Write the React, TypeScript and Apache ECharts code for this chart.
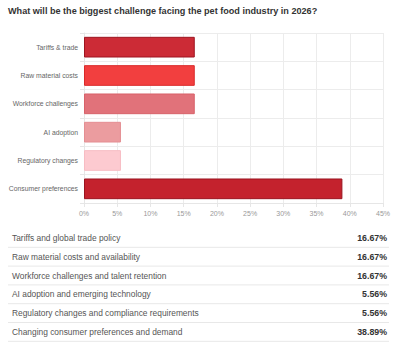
import React, { useEffect, useRef } from "react";
import * as echarts from "echarts";

const title = "What will be the biggest challenge facing the pet food industry in 2026?";
const shortLabels = [
  "Tariffs & trade",
  "Raw material costs",
  "Workforce challenges",
  "AI adoption",
  "Regulatory changes",
  "Consumer preferences",
];
const longLabels = [
  "Tariffs and global trade policy",
  "Raw material costs and availability",
  "Workforce challenges and talent retention",
  "AI adoption and emerging technology",
  "Regulatory changes and compliance requirements",
  "Changing consumer preferences and demand",
];
const values = [16.67, 16.67, 16.67, 5.56, 5.56, 38.89];
const barColors = ["#cc2b36", "#f23f3f", "#e1727a", "#eb9c9f", "#fdcad0", "#c4222d"];
const borderColors = ["#9e1520", "#d92a2a", "#d8626a", "#e48e92", "#f7bcc3", "#9a1420"];
const xTicks = [0, 5, 10, 15, 20, 25, 30, 35, 40, 45];

export default function App() {
  const ref = useRef<HTMLDivElement>(null);
  useEffect(() => {
    if (!ref.current) return;
    const chart = echarts.init(ref.current, null, { renderer: "svg" });
    const font = "Arial, 'Liberation Sans', sans-serif";
    const rowTop = 228.5;
    const rowH = 18.8;
    const graphics: any[] = [
      {
        type: "text",
        left: 8,
        top: 6,
        style: { text: title, fill: "#333", font: `bold 9.1px ${font}` },
      },
    ];
    longLabels.forEach((lbl, i) => {
      const cy = rowTop + rowH * i + rowH / 2;
      graphics.push({
        type: "text",
        x: 12,
        y: cy,
        style: { text: lbl, fill: "#555", font: `8.4px ${font}`, textVerticalAlign: "middle" },
      });
      graphics.push({
        type: "text",
        x: 387,
        y: cy,
        style: {
          text: values[i].toFixed(2) + "%",
          fill: "#333",
          font: `bold 8.8px ${font}`,
          textAlign: "right",
          textVerticalAlign: "middle",
        },
      });
      graphics.push({
        type: "line",
        shape: { x1: 8, y1: rowTop + rowH * (i + 1), x2: 389, y2: rowTop + rowH * (i + 1) },
        style: { stroke: "#e8e8e8", lineWidth: 1 },
      });
    });

    chart.setOption({
      animation: false,
      backgroundColor: "#fff",
      textStyle: { fontFamily: font },
      grid: {
        left: 84,
        right: 17,
        top: 33,
        height: 170,
        containLabel: false,
        outerBoundsMode: "none",
      },
      xAxis: {
        type: "value",
        min: xTicks[0],
        max: xTicks[xTicks.length - 1],
        interval: 5,
        axisLabel: { formatter: "{value}%", color: "#999", fontSize: 7, margin: 7 },
        axisLine: { show: true, lineStyle: { color: "#e6e6e6" } },
        axisTick: { show: true, length: 4, lineStyle: { color: "#e6e6e6" } },
        splitLine: { show: true, lineStyle: { color: "#ececec" } },
      },
      yAxis: {
        type: "category",
        inverse: true,
        data: shortLabels,
        axisLabel: { color: "#666", fontSize: 6.8, margin: 6 },
        axisLine: { show: true, lineStyle: { color: "#e6e6e6" } },
        axisTick: { show: true, length: 4, lineStyle: { color: "#e6e6e6" } },
        splitLine: { show: true, lineStyle: { color: "#ececec" } },
      },
      series: [
        {
          type: "bar",
          data: values.map((v, i) => ({
            value: v,
            itemStyle: { color: barColors[i], borderColor: borderColors[i], borderWidth: 1 },
          })),
          barCategoryGap: "27%",
        },
      ],
      graphic: graphics,
    });
    return () => chart.dispose();
  }, []);
  return (
    <div
      ref={ref}
      style={{ position: "absolute", left: 0, top: 0, width: 400, height: 350 }}
    />
  );
}
